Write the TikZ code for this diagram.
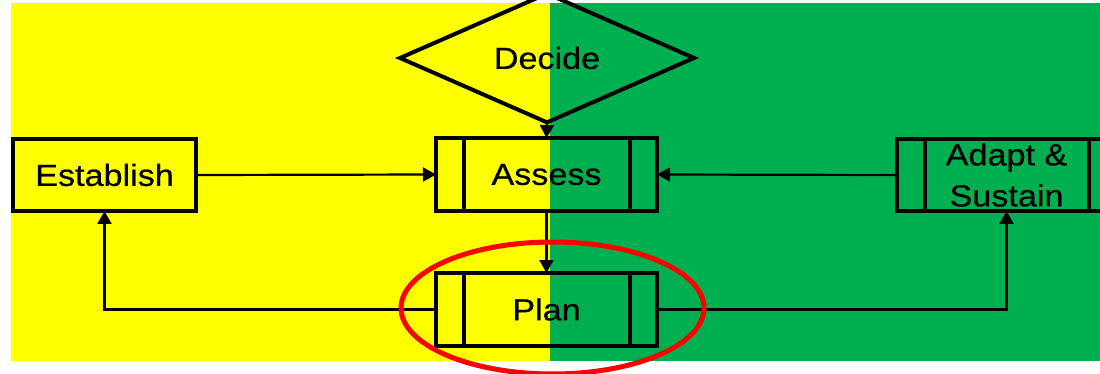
\documentclass[tikz,border=0pt]{standalone}
\usepackage{fontspec}
\setmainfont{Liberation Sans}[FakeStretch=1.12,FakeBold=0.6]
\usetikzlibrary{shapes.geometric,arrows.meta}
\definecolor{panelyellow}{RGB}{255,255,0}
\definecolor{panelgreen}{RGB}{0,176,80}
\definecolor{ringred}{RGB}{255,0,0}
\begin{document}
\begin{tikzpicture}[x=1pt,y=-1pt,
  lab/.style={font=\fontsize{30.5}{41}\selectfont, text=black},
  plainbox/.style={lab, draw=black, line width=4pt, outer sep=0pt, inner sep=0pt},
  procbox/.style={plainbox, minimum width=221pt, minimum height=73pt},
  decision/.style={lab, diamond, draw=black, line width=4pt, outer sep=0pt, inner sep=0pt,
    minimum width=294pt, minimum height=88pt},
  strip/.style={draw=black, line width=4pt},
  link/.style={draw=black, line width=2.2pt, -{Triangle[length=13pt,width=14pt]}},
  ring/.style={ellipse, draw=ringred, line width=5pt, minimum width=303pt, minimum height=132pt}
]
\useasboundingbox (0,0) rectangle (1100,374);
\clip (0,0) rectangle (1100,374);

% two coloured panels
\fill[panelyellow] (10.5,3) rectangle (550,361);
\fill[panelgreen] (550,3) rectangle (1100,361);

% nodes
\node[decision] (decide) at (547,58) {Decide};
\node[plainbox, minimum width=183pt, minimum height=72pt] (establish) at (104.5,175) {Establish};
\node[procbox] (assess) at (546.5,174.5) {Assess};
\node[procbox] (plan) at (546.5,309.5) {Plan};
\node[procbox, minimum width=219pt, minimum height=72pt, align=center] (adapt) at (1006.5,175) {Adapt \&\\Sustain};

% side strips of the process boxes
\foreach \b in {assess,plan,adapt}{
  \draw[strip] ([xshift=27.5pt]\b.north west) -- ([xshift=27.5pt]\b.south west);
  \draw[strip] ([xshift=-27.5pt]\b.north east) -- ([xshift=-27.5pt]\b.south east);
}

% connectors
\draw[link] (decide.south) -- (assess.north);
\draw[link] (establish.east) -- (assess.west);
\draw[link] (adapt.west) -- (assess.east);
\draw[link] (assess.south) -- (plan.north);
\draw[link] (plan.west) -| (establish.south);
\draw[link] (plan.east) -| (adapt.south);

% highlight ring around the planning step
\node[ring] (highlight) at (552.5,308) {};
\end{tikzpicture}
\end{document}
